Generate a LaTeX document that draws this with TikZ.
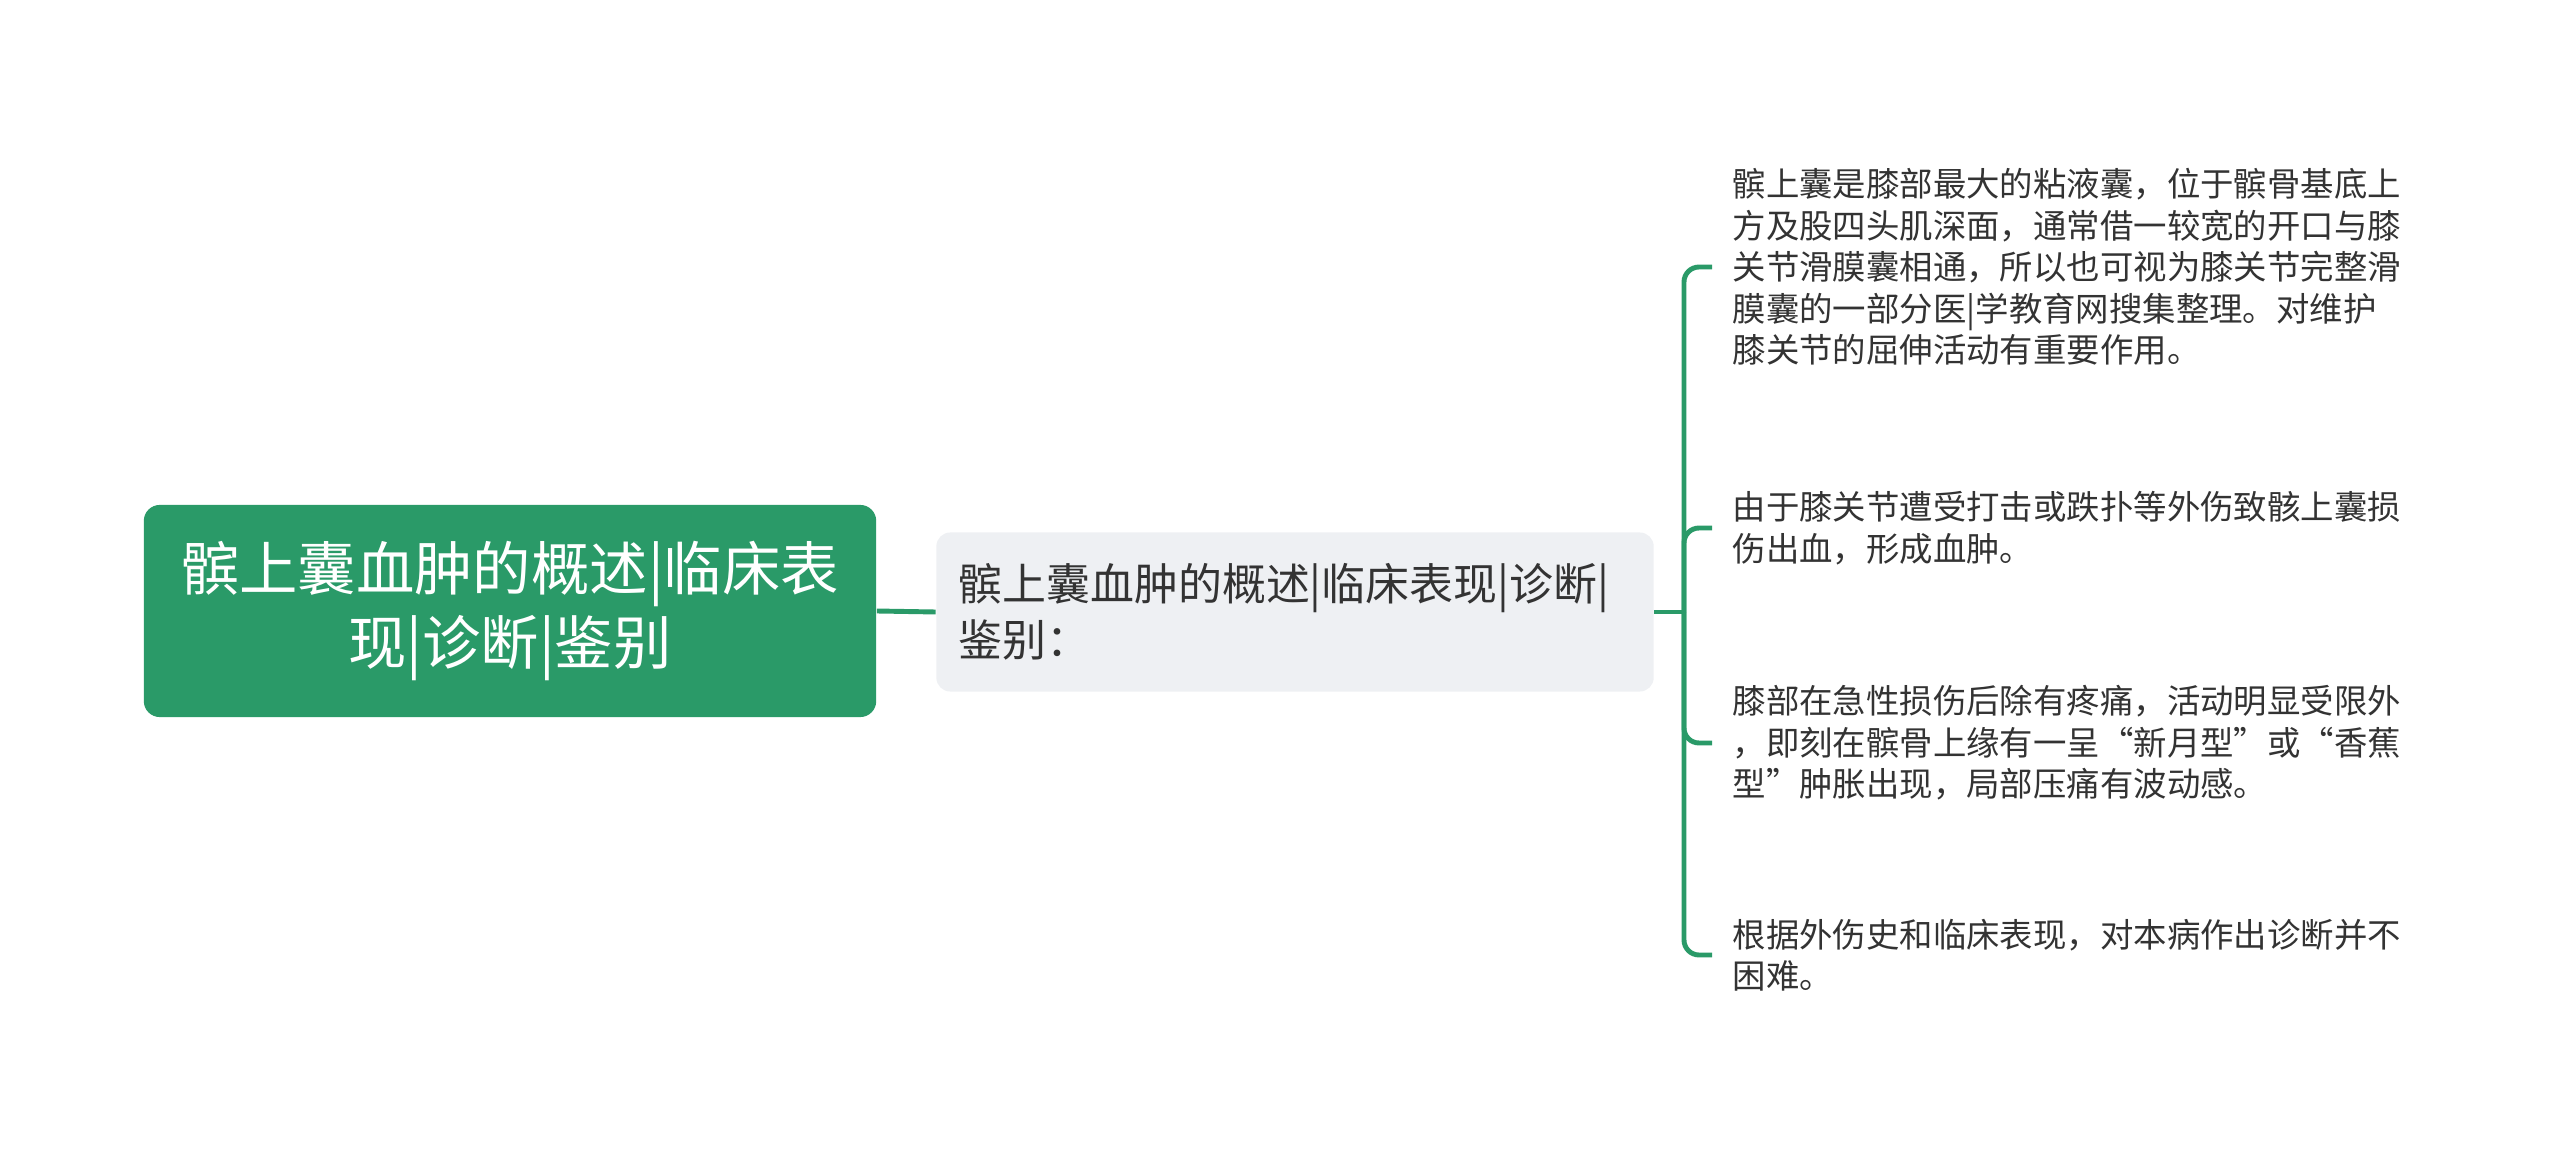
\documentclass[tikz,border=0pt]{standalone}
\usepackage{fontspec}
\setmainfont{Noto Sans CJK SC}
\usetikzlibrary{positioning}

\definecolor{mapgreen}{HTML}{2A9A68}
\definecolor{subgray}{HTML}{EEF0F3}
\definecolor{textdark}{HTML}{333333}

\tikzset{
    rootbox/.style={fill=mapgreen, rounded corners=0.16cm, text=white, align=center,
        minimum width=7.32cm, minimum height=2.12cm, font=\fontsize{16.6}{21.3}\selectfont},
    subbox/.style={fill=subgray, rounded corners=0.14cm, text=textdark, align=left,
        text width=6.73cm, inner xsep=0.22cm, minimum height=1.59cm,
        font=\fontsize{12.5}{15.9}\selectfont},
    leaftext/.style={anchor=west, align=left, text=textdark, inner xsep=0.2cm,
        font=\fontsize{9.5}{11.8}\selectfont},
    link/.style={draw=mapgreen, line width=1.4pt},
}

\begin{document}
\begin{tikzpicture}[x=0.01cm, y=-0.01cm]
            \useasboundingbox (0,0) rectangle (2560,1155);

            % Main topic and summary
            \node[rootbox] (root) at (510,611) {髌上囊血肿的概述|临床表\\现|诊断|鉴别};
            \node[subbox] (sub) at (1295,612) {髌上囊血肿的概述|临床表现|诊断|\\鉴别：};

            % Details
            \node[leaftext] (leaf1) at (1712,267) {髌上囊是膝部最大的粘液囊，位于髌骨基底上\\方及股四头肌深面，通常借一较宽的开口与膝\\关节滑膜囊相通，所以也可视为膝关节完整滑\\膜囊的一部分医|学教育网搜集整理。对维护\\膝关节的屈伸活动有重要作用。};
            \node[leaftext] (leaf2) at (1712,528) {由于膝关节遭受打击或跌扑等外伤致骸上囊损\\伤出血，形成血肿。};
            \node[leaftext] (leaf3) at (1712,743) {膝部在急性损伤后除有疼痛，活动明显受限外\\，即刻在髌骨上缘有一呈“新月型”或“香蕉\\型”肿胀出现，局部压痛有波动感。};
            \node[leaftext] (leaf4) at (1712,955) {根据外伤史和临床表现，对本病作出诊断并不\\困难。};

            % Connectors
            \coordinate (bus) at (1684,612);
            \draw[link] (root.east) -- (sub.west);
            \draw[link] (sub.east) -- (bus);
            \foreach \n in {1,2,3,4} {
                \draw[link, rounded corners=0.15cm] (bus) |- (leaf\n.west);
            }
\end{tikzpicture}
\end{document}
